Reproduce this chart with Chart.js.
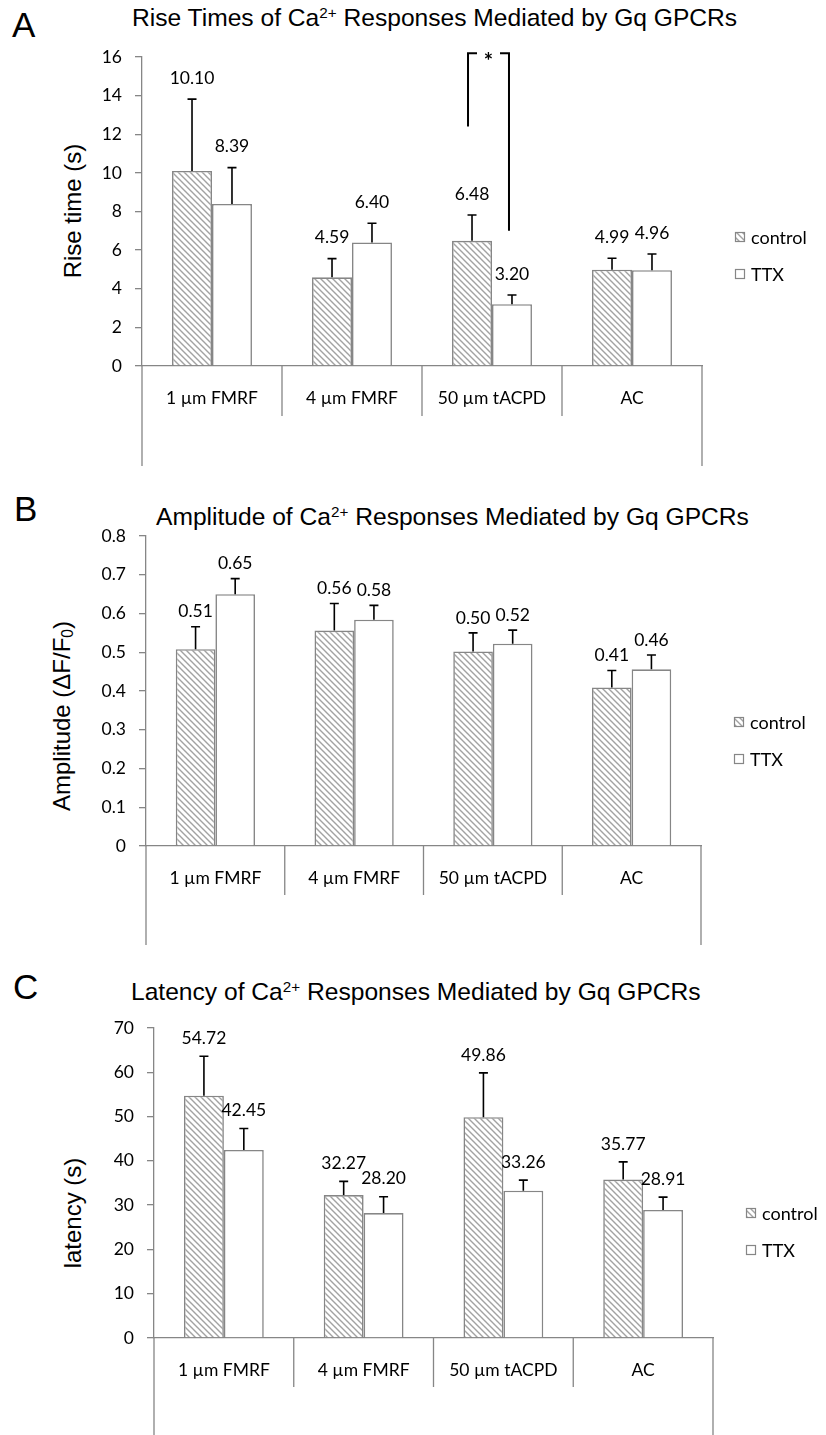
<!DOCTYPE html>
<html>
<head>
<meta charset="utf-8">
<script src="https://cdn.jsdelivr.net/npm/chart.js@4.4.1/dist/chart.umd.min.js"></script>
<style>
    html, body { margin: 0; padding: 0; background: #fff; }
    #page { position: relative; width: 826px; height: 1435px; overflow: hidden; font-family: "Liberation Sans", Arial, sans-serif; color: #000; }
    .panel { position: absolute; left: 0; width: 826px; }
    .panel canvas { position: absolute; left: 0; top: 0; }
    .letter { position: absolute; font-size: 35px; line-height: 1; }
    .title { position: absolute; font-size: 24.6px; line-height: 1; white-space: nowrap; }
    .title sup { font-size: 0.62em; vertical-align: 0.55em; line-height: 0; }
    .ytitle { position: absolute; font-size: 24px; line-height: 1; white-space: nowrap; transform: translate(-50%, -50%) rotate(-90deg); }
    .ytitle sub { font-size: 0.65em; vertical-align: -0.22em; line-height: 0; }
</style>
</head>
<body>
<div id="page">
    <div class="letter" style="left:12px; top:7px;">A</div>
    <div class="title" style="left:132px; top:6px;">Rise Times of Ca<sup>2+</sup> Responses Mediated by Gq GPCRs</div>
    <div class="ytitle" style="left:73px; top:211px;">Rise time (s)</div>
    <div class="panel" style="top:0; height:470px;"><canvas id="riseChart" width="826" height="470"></canvas></div>

    <div class="letter" style="left:14px; top:491px;">B</div>
    <div class="title" style="left:156px; top:505px;">Amplitude of Ca<sup>2+</sup> Responses Mediated by Gq GPCRs</div>
    <div class="ytitle" style="left:62px; top:716px;">Amplitude (ΔF/F<sub>0</sub>)</div>
    <div class="panel" style="top:470px; height:480px;"><canvas id="ampChart" width="826" height="480"></canvas></div>

    <div class="letter" style="left:13px; top:969px;">C</div>
    <div class="title" style="left:131px; top:980px;">Latency of Ca<sup>2+</sup> Responses Mediated by Gq GPCRs</div>
    <div class="ytitle" style="left:73px; top:1213px;">latency (s)</div>
    <div class="panel" style="top:950px; height:485px;"><canvas id="latChart" width="826" height="485"></canvas></div>
</div>

<script>
// Categories and series
const categories = ['1 µm FMRF', '4 µm FMRF', '50 µm tACPD', 'AC'];
const seriesNames = ['control', 'TTX'];

// A - rise times (s)
const riseControl = [10.10, 4.59, 6.48, 4.99];
const riseTTX = [8.39, 6.40, 3.20, 4.96];
const riseControlErr = [3.72, 0.97, 1.34, 0.59];
const riseTTXErr = [1.88, 0.99, 0.48, 0.84];
const riseTicks = [0, 2, 4, 6, 8, 10, 12, 14, 16];

// A - significance bracket between control and TTX for 50 µm tACPD
const riseSigIndex = 2;
const riseSigTop = 16.2;
const riseSigLeftEnd = 12.4;
const riseSigRightEnd = 7.0;

// B - amplitude (dF/F0)
const ampControl = [0.508, 0.556, 0.502, 0.409];
const ampTTX = [0.650, 0.584, 0.522, 0.456];
const ampControlErr = [0.058, 0.070, 0.048, 0.044];
const ampTTXErr = [0.040, 0.037, 0.035, 0.037];
const ampTicks = [0, 0.1, 0.2, 0.3, 0.4, 0.5, 0.6, 0.7, 0.8];

// C - latency (s)
const latControl = [54.72, 32.27, 49.86, 35.77];
const latTTX = [42.45, 28.20, 33.26, 28.91];
const latControlErr = [8.9, 3.1, 10.0, 4.0];
const latTTXErr = [4.85, 3.7, 2.4, 2.9];
const latTicks = [0, 10, 20, 30, 40, 50, 60, 70];

const AXIS_GREY = '#868686';
const LABEL_FONT = '"Lato", "Noto Sans", sans-serif';

// Diagonal hatch used for the control bars
const makeHatch = () => {
    const c = document.createElement('canvas');
    c.width = 6;
    c.height = 6;
    const g = c.getContext('2d');
    g.fillStyle = '#fff';
    g.fillRect(0, 0, 6, 6);
    g.strokeStyle = '#a2a2a2';
    g.lineWidth = 1.4;
    g.beginPath();
    g.moveTo(-1, -1); g.lineTo(7, 7);
    g.moveTo(-4, 2); g.lineTo(4, 10);
    g.moveTo(2, -4); g.lineTo(10, 4);
    g.stroke();
    return g.createPattern(c, 'repeat');
};
const hatch = makeHatch();

// Error bars, value labels, category dividers, legend, significance bracket
const figureExtras = {
    id: 'figureExtras',
    afterDatasetsDraw(chart, args, opts) {
        const { ctx, scales: { y } } = chart;
        chart.data.datasets.forEach((ds, di) => {
            const meta = chart.getDatasetMeta(di);
            meta.data.forEach((bar, i) => {
                const top = y.getPixelForValue(ds.data[i] + ds.errors[i]);
                ctx.save();
                ctx.strokeStyle = '#000';
                ctx.lineWidth = 1.6;
                ctx.beginPath();
                ctx.moveTo(bar.x, bar.y);
                ctx.lineTo(bar.x, top);
                ctx.moveTo(bar.x - 4.5, top);
                ctx.lineTo(bar.x + 4.5, top);
                ctx.stroke();
                ctx.fillStyle = '#000';
                ctx.font = '17.5px ' + LABEL_FONT;
                ctx.textAlign = 'center';
                ctx.textBaseline = 'middle';
                ctx.fillText(ds.data[i].toFixed(2), bar.x, top - opts.labelGap);
                ctx.restore();
            });
        });
    },
    afterDraw(chart, args, opts) {
        const { ctx, chartArea, scales: { x, y } } = chart;
        const n = chart.data.labels.length;
        const step = x.getPixelForValue(1) - x.getPixelForValue(0);
        const x0 = x.getPixelForValue(0) - step / 2;

        ctx.save();
        ctx.strokeStyle = AXIS_GREY;
        ctx.lineWidth = 1.3;
        ctx.beginPath();
        for (let i = 0; i <= n; i++) {
            const px = x0 + i * step;
            const drop = (i === 0 || i === n) ? opts.outerDrop : opts.innerDrop;
            ctx.moveTo(px, chartArea.bottom);
            ctx.lineTo(px, chartArea.bottom + drop);
        }
        ctx.stroke();

        // legend
        ctx.font = '18px ' + LABEL_FONT;
        ctx.textAlign = 'left';
        ctx.textBaseline = 'middle';
        chart.data.datasets.forEach((ds, i) => {
            const cy = opts.legendTop + i * 37;
            const sx = chartArea.right + 33;
            ctx.fillStyle = ds.backgroundColor;
            ctx.fillRect(sx, cy - 5, 10, 10);
            ctx.strokeStyle = AXIS_GREY;
            ctx.lineWidth = 1.2;
            ctx.strokeRect(sx + 0.5, cy - 4.5, 9, 9);
            ctx.fillStyle = '#000';
            ctx.fillText(ds.label, sx + 16, cy + 1);
        });

        // significance bracket
        if (opts.bracket) {
            const b = opts.bracket;
            const left = chart.getDatasetMeta(0).data[b.index].x - 4;
            const right = chart.getDatasetMeta(1).data[b.index].x - 3;
            const topY = y.getPixelForValue(b.top);
            const mid = (left + right) / 2;
            ctx.strokeStyle = '#000';
            ctx.lineWidth = 2;
            ctx.beginPath();
            ctx.moveTo(left, y.getPixelForValue(b.leftEnd));
            ctx.lineTo(left, topY);
            ctx.lineTo(left + 9, topY);
            ctx.moveTo(right - 9, topY);
            ctx.lineTo(right, topY);
            ctx.lineTo(right, y.getPixelForValue(b.rightEnd));
            ctx.stroke();
            ctx.fillStyle = '#000';
            ctx.font = 'bold 22px ' + LABEL_FONT;
            ctx.textAlign = 'center';
            ctx.textBaseline = 'alphabetic';
            ctx.fillText('*', mid, topY + 16);
        }
        ctx.restore();
    }
};

// Build one panel
const createPanel = (canvasId, controlData, ttxData, controlErr, ttxErr, ticks, layout, extras) => {
    const ctx = document.getElementById(canvasId).getContext('2d');
    return new Chart(ctx, {
        type: 'bar',
        data: {
            labels: categories,
            datasets: [
                {
                    label: seriesNames[0],
                    data: controlData,
                    errors: controlErr,
                    backgroundColor: hatch,
                    borderColor: AXIS_GREY,
                    borderWidth: 1.6,
                    categoryPercentage: 0.571,
                    barPercentage: 1.0
                },
                {
                    label: seriesNames[1],
                    data: ttxData,
                    errors: ttxErr,
                    backgroundColor: '#ffffff',
                    borderColor: AXIS_GREY,
                    borderWidth: 1.6,
                    categoryPercentage: 0.571,
                    barPercentage: 1.0
                }
            ]
        },
        options: {
            responsive: false,
            animation: false,
            devicePixelRatio: 1,
            layout: {
                padding: { top: layout.top, right: layout.right, bottom: 0, left: 0 }
            },
            plugins: {
                legend: { display: false },
                tooltip: { enabled: false },
                title: { display: false },
                figureExtras: extras
            },
            scales: {
                x: {
                    grid: { display: false, drawTicks: false },
                    border: { color: AXIS_GREY, width: 1.3 },
                    ticks: {
                        padding: 22,
                        color: '#000',
                        font: { family: LABEL_FONT, size: 17.5 }
                    },
                    afterFit: (scale) => { scale.height = layout.xHeight; }
                },
                y: {
                    min: ticks[0],
                    max: ticks[ticks.length - 1],
                    grid: {
                        drawOnChartArea: false,
                        drawTicks: true,
                        tickLength: 7,
                        color: AXIS_GREY,
                        lineWidth: 1.3
                    },
                    border: { color: AXIS_GREY, width: 1.3 },
                    ticks: {
                        padding: 13,
                        color: '#000',
                        font: { family: LABEL_FONT, size: 17.5 },
                        callback: (v) => String(v)
                    },
                    afterBuildTicks: (scale) => {
                        scale.ticks = ticks.map(v => ({ value: v }));
                    },
                    afterFit: (scale) => { scale.width = layout.left; }
                }
            }
        },
        plugins: [figureExtras]
    });
};

document.addEventListener('DOMContentLoaded', function () {
    createPanel('riseChart', riseControl, riseTTX, riseControlErr, riseTTXErr, riseTicks,
        { top: 57, right: 124, left: 142, xHeight: 104 },
        {
            labelGap: 21, innerDrop: 50, outerDrop: 100, legendTop: 237,
            bracket: { index: riseSigIndex, top: riseSigTop, leftEnd: riseSigLeftEnd, rightEnd: riseSigRightEnd }
        });

    createPanel('ampChart', ampControl, ampTTX, ampControlErr, ampTTXErr, ampTicks,
        { top: 66, right: 125, left: 146, xHeight: 104 },
        { labelGap: 15, innerDrop: 49, outerDrop: 99, legendTop: 252 });

    createPanel('latChart', latControl, latTTX, latControlErr, latTTXErr, latTicks,
        { top: 78, right: 113, left: 154, xHeight: 97 },
        { labelGap: 18, innerDrop: 49, outerDrop: 97, legendTop: 263 });
});
</script>
</body>
</html>
